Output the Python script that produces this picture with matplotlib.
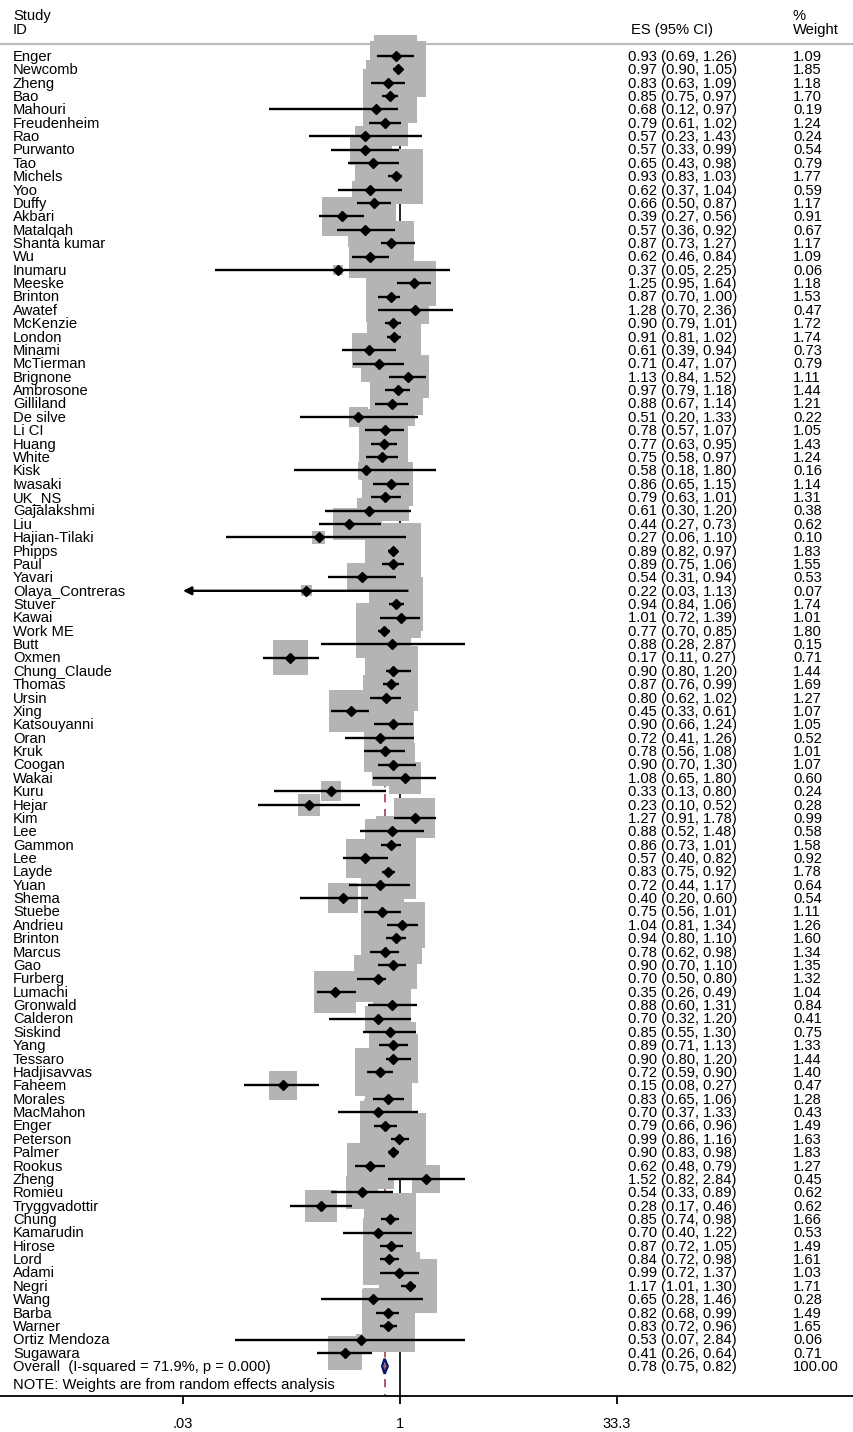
import matplotlib.pyplot as plt
import matplotlib.transforms as mtransforms
import numpy as np

plt.rcParams['font.family'] = ['Liberation Sans', 'DejaVu Sans']

studies = ["Enger", "Newcomb", "Zheng", "Bao", "Mahouri", "Freudenheim", "Rao", "Purwanto",
           "Tao", "Michels", "Yoo", "Duffy", "Akbari", "Matalqah", "Shanta kumar", "Wu",
           "Inumaru", "Meeske", "Brinton", "Awatef", "McKenzie", "London", "Minami", "McTierman",
           "Brignone", "Ambrosone", "Gilliland", "De silve", "Li CI", "Huang", "White", "Kisk",
           "Iwasaki", "UK_NS", "Gajalakshmi", "Liu", "Hajian-Tilaki", "Phipps", "Paul", "Yavari",
           "Olaya_Contreras", "Stuver", "Kawai", "Work ME", "Butt", "Oxmen", "Chung_Claude",
           "Thomas", "Ursin", "Xing", "Katsouyanni", "Oran", "Kruk", "Coogan", "Wakai", "Kuru",
           "Hejar", "Kim", "Lee", "Gammon", "Lee", "Layde", "Yuan", "Shema", "Stuebe", "Andrieu",
           "Brinton", "Marcus", "Gao", "Furberg", "Lumachi", "Gronwald", "Calderon", "Siskind",
           "Yang", "Tessaro", "Hadjisavvas", "Faheem", "Morales", "MacMahon", "Enger", "Peterson",
           "Palmer", "Rookus", "Zheng", "Romieu", "Tryggvadottir", "Chung", "Kamarudin", "Hirose",
           "Lord", "Adami", "Negri", "Wang", "Barba", "Warner", "Ortiz Mendoza", "Sugawara"]

es = [0.93, 0.97, 0.83, 0.85, 0.68, 0.79, 0.57, 0.57, 0.65, 0.93, 0.62, 0.66, 0.39, 0.57,
      0.87, 0.62, 0.37, 1.25, 0.87, 1.28, 0.90, 0.91, 0.61, 0.71, 1.13, 0.97, 0.88, 0.51,
      0.78, 0.77, 0.75, 0.58, 0.86, 0.79, 0.61, 0.44, 0.27, 0.89, 0.89, 0.54, 0.22, 0.94,
      1.01, 0.77, 0.88, 0.17, 0.90, 0.87, 0.80, 0.45, 0.90, 0.72, 0.78, 0.90, 1.08, 0.33,
      0.23, 1.27, 0.88, 0.86, 0.57, 0.83, 0.72, 0.40, 0.75, 1.04, 0.94, 0.78, 0.90, 0.70,
      0.35, 0.88, 0.70, 0.85, 0.89, 0.90, 0.72, 0.15, 0.83, 0.70, 0.79, 0.99, 0.90, 0.62,
      1.52, 0.54, 0.28, 0.85, 0.70, 0.87, 0.84, 0.99, 1.17, 0.65, 0.82, 0.83, 0.53, 0.41]

lo = [0.69, 0.90, 0.63, 0.75, 0.12, 0.61, 0.23, 0.33, 0.43, 0.83, 0.37, 0.50, 0.27, 0.36,
      0.73, 0.46, 0.05, 0.95, 0.70, 0.70, 0.79, 0.81, 0.39, 0.47, 0.84, 0.79, 0.67, 0.20,
      0.57, 0.63, 0.58, 0.18, 0.65, 0.63, 0.30, 0.27, 0.06, 0.82, 0.75, 0.31, 0.03, 0.84,
      0.72, 0.70, 0.28, 0.11, 0.80, 0.76, 0.62, 0.33, 0.66, 0.41, 0.56, 0.70, 0.65, 0.13,
      0.10, 0.91, 0.52, 0.73, 0.40, 0.75, 0.44, 0.20, 0.56, 0.81, 0.80, 0.62, 0.70, 0.50,
      0.26, 0.60, 0.32, 0.55, 0.71, 0.80, 0.59, 0.08, 0.65, 0.37, 0.66, 0.86, 0.83, 0.48,
      0.82, 0.33, 0.17, 0.74, 0.40, 0.72, 0.72, 0.72, 1.01, 0.28, 0.68, 0.72, 0.07, 0.26]

hi = [1.26, 1.05, 1.09, 0.97, 0.97, 1.02, 1.43, 0.99, 0.98, 1.03, 1.04, 0.87, 0.56, 0.92,
      1.27, 0.84, 2.25, 1.64, 1.00, 2.36, 1.01, 1.02, 0.94, 1.07, 1.52, 1.18, 1.14, 1.33,
      1.07, 0.95, 0.97, 1.80, 1.15, 1.01, 1.20, 0.73, 1.10, 0.97, 1.06, 0.94, 1.13, 1.06,
      1.39, 0.85, 2.87, 0.27, 1.20, 0.99, 1.02, 0.61, 1.24, 1.26, 1.08, 1.30, 1.80, 0.80,
      0.52, 1.78, 1.48, 1.01, 0.82, 0.92, 1.17, 0.60, 1.01, 1.34, 1.10, 0.98, 1.10, 0.80,
      0.49, 1.31, 1.20, 1.30, 1.13, 1.20, 0.90, 0.27, 1.06, 1.33, 0.96, 1.16, 0.98, 0.79,
      2.84, 0.89, 0.46, 0.98, 1.22, 1.05, 0.98, 1.37, 1.30, 1.46, 0.99, 0.96, 2.84, 0.64]

weight = [1.09, 1.85, 1.18, 1.70, 0.19, 1.24, 0.24, 0.54, 0.79, 1.77, 0.59, 1.17, 0.91, 0.67,
          1.17, 1.09, 0.06, 1.18, 1.53, 0.47, 1.72, 1.74, 0.73, 0.79, 1.11, 1.44, 1.21, 0.22,
          1.05, 1.43, 1.24, 0.16, 1.14, 1.31, 0.38, 0.62, 0.10, 1.83, 1.55, 0.53, 0.07, 1.74,
          1.01, 1.80, 0.15, 0.71, 1.44, 1.69, 1.27, 1.07, 1.05, 0.52, 1.01, 1.07, 0.60, 0.24,
          0.28, 0.99, 0.58, 1.58, 0.92, 1.78, 0.64, 0.54, 1.11, 1.26, 1.60, 1.34, 1.35, 1.32,
          1.04, 0.84, 0.41, 0.75, 1.33, 1.44, 1.40, 0.47, 1.28, 0.43, 1.49, 1.63, 1.83, 1.27,
          0.45, 0.62, 0.62, 1.66, 0.53, 1.49, 1.61, 1.03, 1.71, 0.28, 1.49, 1.65, 0.06, 0.71]

overall_es, overall_lo, overall_hi = 0.78, 0.75, 0.82
overall_label = "Overall  (I-squared = 71.9%, p = 0.000)"
note = "NOTE: Weights are from random effects analysis"
xticks = [0.03, 1, 33.3]
xticklabels = [".03", "1", "33.3"]

n = len(studies)
rows = np.arange(1, n + 1)
r_overall = n + 1

W, H = 854, 1432
fig = plt.figure(figsize=(W / 100, H / 100), dpi=100)
# axes covers the whole width; bottom spine is the x axis
ax = fig.add_axes([0, 1 - 1396 / H, 1, 1396 / H])
px_per_dec = 142.5
ax.set_xscale('log')
ax.set_xlim(10 ** (-400 / px_per_dec), 10 ** ((W - 400) / px_per_dec))
row_px = 13.37
ax.set_ylim(1 + (1396 - 56) / row_px, 1 - 56 / row_px)

for s in ['top', 'left', 'right']:
    ax.spines[s].set_visible(False)
ax.spines['bottom'].set_linewidth(1.3)
ax.set_yticks([])
ax.set_xticks(xticks)
ax.set_xticklabels(xticklabels, fontsize=10.5)
ax.minorticks_off()
ax.tick_params(axis='x', length=6, width=1.3, pad=9)

ytop = 1 - 12 / row_px
ybot = 1 + (1396 - 56) / row_px
# null line and overall line
ax.plot([1, 1], [ytop, ybot], color='black', lw=1.2, zorder=1)
ax.plot([overall_es, overall_es], [ytop, ybot], color='#a0404f', lw=1.2,
        dashes=(5, 4), zorder=1)

# header
ax.axhline(ytop, color='#bdbdbd', lw=1.6, zorder=1)
trans = mtransforms.blended_transform_factory(ax.transAxes, ax.transData)
fs = 10.6
base = 0.36
xname, xes, xw = 13 / W, 628 / W, 793 / W
y_h1 = 1 - 41 / row_px + base
y_h2 = 1 - 27 / row_px + base
ax.text(xname, y_h1, "Study", transform=trans, fontsize=fs, va='baseline')
ax.text(xname, y_h2, "ID", transform=trans, fontsize=fs, va='baseline')
ax.text(631 / W, y_h2, "ES (95% CI)", transform=trans, fontsize=fs, va='baseline')
ax.text(xw, y_h1, "%", transform=trans, fontsize=fs, va='baseline')
ax.text(xw, y_h2, "Weight", transform=trans, fontsize=fs, va='baseline')

# weight boxes
w = np.array(weight)
side_pt = 41 * np.sqrt(w) * 0.72
ax.scatter(es, rows, s=side_pt ** 2, marker='s', color='#b4b4b4', edgecolors='none', zorder=2)

# confidence intervals
xmin_ci = 0.03
for r, e, l, h in zip(rows, es, lo, hi):
    if l <= xmin_ci:
        ax.annotate('', xy=(l, r), xytext=(h, r),
                    arrowprops=dict(arrowstyle='-|>', color='black', lw=1.7,
                                    mutation_scale=12, shrinkA=0, shrinkB=0), zorder=3)
    else:
        ax.plot([l, h], [r, r], color='black', lw=1.7, solid_capstyle='butt', zorder=3)
ax.plot(es, rows, 'D', color='black', ms=4.6, ls='none', zorder=4)

# overall diamond
dh = 0.56
ax.fill([overall_lo, overall_es, overall_hi, overall_es, overall_lo],
        [r_overall, r_overall - dh, r_overall, r_overall + dh, r_overall],
        facecolor='none', edgecolor='#0a1a6e', lw=1.8, zorder=5)

# text columns
for r, name, e, l, h, wt in zip(rows, studies, es, lo, hi, weight):
    ax.text(xname, r + base, name, transform=trans, fontsize=fs, va='baseline')
    ax.text(xes, r + base, f"{e:.2f} ({l:.2f}, {h:.2f})", transform=trans, fontsize=fs, va='baseline')
    ax.text(xw, r + base, f"{wt:.2f}", transform=trans, fontsize=fs, va='baseline')

ax.text(xname, r_overall + base, overall_label, transform=trans, fontsize=fs, va='baseline')
ax.text(xes, r_overall + base, f"{overall_es:.2f} ({overall_lo:.2f}, {overall_hi:.2f})",
        transform=trans, fontsize=fs, va='baseline')
ax.text(xw, r_overall + base, "100.00", transform=trans, fontsize=fs, va='baseline')
ax.text(xname, r_overall + 1.35 + base, note, transform=trans, fontsize=fs, va='baseline')

fig.savefig('out.png', dpi=100)
